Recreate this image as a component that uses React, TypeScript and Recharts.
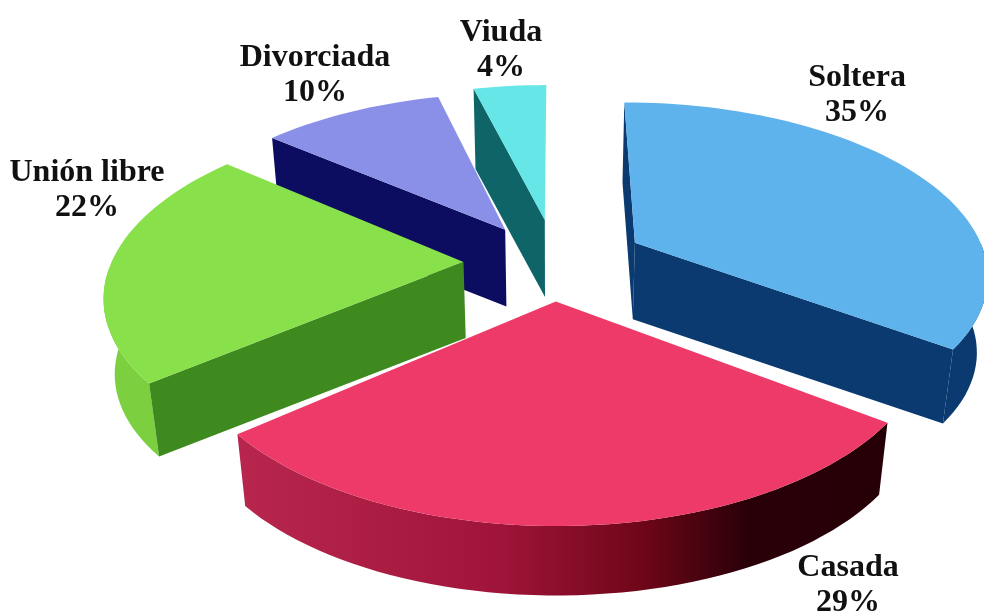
import { PieChart, Pie } from "recharts"

// listed back to front, the pie runs counter clockwise from twelve o'clock
const names = ["Viuda", "Divorciada", "Unión libre", "Casada", "Soltera"]
const values = [4, 10, 22, 29, 35]
const topColors = ["#66e6e6", "#8a90e8", "#88e04a", "#ee3a68", "#5fb3ec"]
const edgeColors = ["#0f6468", "#0c0c60", "#3f8a1f", "#8b0c2a", "#0a3a70"]
const rimColors = ["#0f6468", "#0c0c60", "#7cd040", "url(#casadaRim)", "#0a3a70"]
// hand fitted screen shift of each exploded slice
const nudges = [[3, -3], [-3, 1], [-4, 0], [1, -3], [9, -1]]
const labelSpots = [[501, 41], [315, 66], [87, 181], [848, 576], [857, 86]]

const data = names.map((name, i) => ({ name, value: values[i] }))

const EXPLODE = 0.24
const TILT = 170
const PERSPECTIVE = 0.17
const DEPTH = 76
const BOTTOM_SCALE = 0.975

const dir = (deg: number) => {
  const a = (deg * Math.PI) / 180
  return [Math.cos(a), -Math.sin(a)]
}

const Slice3D = ({ cx, cy, outerRadius, startAngle, endAngle, index }: any) => {
  const from = Math.max(startAngle, endAngle)
  const to = Math.min(startAngle, endAngle)
  const mid = dir((from + to) / 2)
  const ox = mid[0] * EXPLODE
  const oy = mid[1] * EXPLODE
  const [nx, ny] = nudges[index]

  // pie plane to screen, u and v in units of the radius
  const top = (u: number, v: number) => {
    const s = 1 / (1 - PERSPECTIVE * (v + oy))
    return [
      cx + outerRadius * (u + ox) * s + nx,
      cy + TILT * (v + oy) * s + ny,
    ]
  }
  const low = (u: number, v: number) => {
    const [x, y] = top(u, v)
    return [cx + (x - cx) * BOTTOM_SCALE, cy + (y - cy) * BOTTOM_SCALE + DEPTH]
  }
  const path = (pts: number[][]) =>
    "M" + pts.map((p) => p[0].toFixed(1) + "," + p[1].toFixed(1)).join("L") + "Z"

  const arc: number[][] = []
  const steps = Math.ceil((from - to) / 2)
  for (let i = 0; i <= steps; i++) {
    arc.push(dir(from + ((to - from) * i) / steps))
  }
  const front = arc.filter((p) => p[1] > 0)
  const first = arc[0]
  const last = arc[arc.length - 1]

  // a straight wall shows when its outward side looks at the viewer
  const showStart = first[0] < 0.01
  const showEnd = last[0] > 0.01

  const wall = (d: number[]) =>
    path([top(0, 0), top(d[0], d[1]), low(d[0], d[1]), low(0, 0)])

  return (
    <g>
      <defs>
        <linearGradient id="casadaRim" gradientUnits="userSpaceOnUse" x1="240" y1="0" x2="890" y2="0">
          <stop offset="0" stopColor="#b8264e" />
          <stop offset="0.4" stopColor="#a0143a" />
          <stop offset="0.62" stopColor="#6e0618" />
          <stop offset="0.78" stopColor="#2a0008" />
          <stop offset="1" stopColor="#260007" />
        </linearGradient>
      </defs>
      {front.length > 1 && (
        <path
          d={path([
            ...front.map((p) => top(p[0], p[1])),
            ...[...front].reverse().map((p) => low(p[0], p[1])),
          ])}
          fill={rimColors[index]}
        />
      )}
      {showStart && <path d={wall(first)} fill={edgeColors[index]} />}
      {showEnd && <path d={wall(last)} fill={edgeColors[index]} />}
      <path
        d={path([top(0, 0), ...arc.map((p) => top(p[0], p[1]))])}
        fill={topColors[index]}
      />
    </g>
  )
}

const SliceLabel = ({ name, value, index }: any) => {
  const [x, y] = labelSpots[index]
  return (
    <text
      x={x}
      y={y}
      textAnchor="middle"
      fontFamily="'Liberation Serif', serif"
      fontWeight="700"
      fontSize={32}
      fill="#111"
    >
      <tspan x={x}>{name}</tspan>
      <tspan x={x} dy={35}>
        {value}%
      </tspan>
    </text>
  )
}

const App = () => {
  return (
    <div style={{ position: "absolute", left: 0, top: 0, width: 984, height: 613, overflow: "hidden", background: "#fff" }}>
      <div style={{ filter: "blur(0.5px)" }}>
        <PieChart width={984} height={613} margin={{ top: 0, right: 0, bottom: 0, left: 0 }}>
          <Pie
            data={data}
            dataKey="value"
            nameKey="name"
            cx={552}
            cy={262}
            outerRadius={352}
            startAngle={90}
            endAngle={450}
            stroke="none"
            isAnimationActive={false}
            shape={<Slice3D />}
            label={<SliceLabel />}
            labelLine={false}
          />
        </PieChart>
      </div>
    </div>
  )
}

export default App
